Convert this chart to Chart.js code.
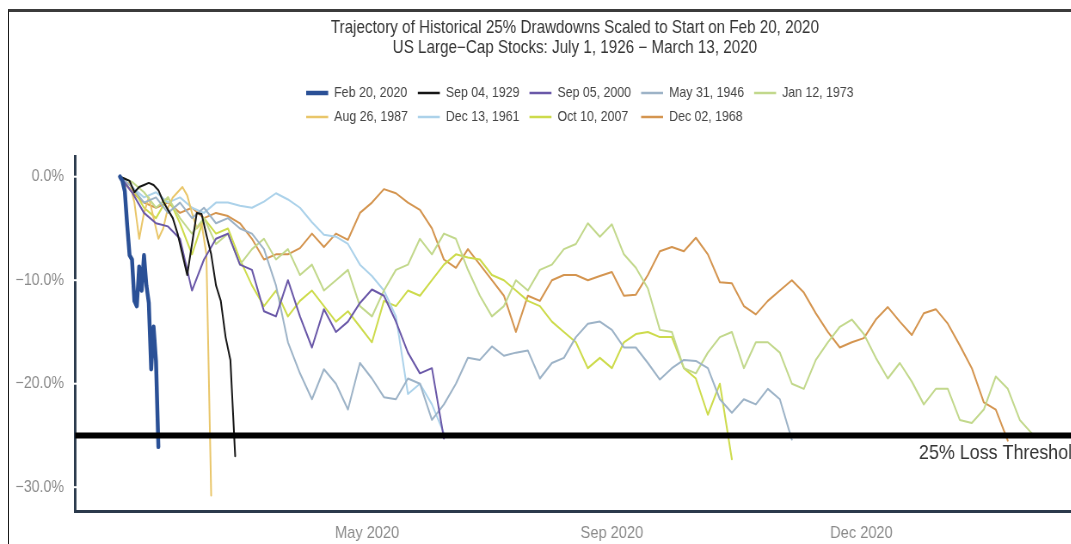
<!DOCTYPE html>
<html><head><meta charset="utf-8">
<script src="https://cdn.jsdelivr.net/npm/chart.js@4.4.1/dist/chart.umd.min.js"></script>
<style>
html,body{margin:0;padding:0;background:#fff;overflow:hidden;width:1071px;height:544px;}
#wrap{position:absolute;left:0;top:0;width:1337px;height:544px;transform:scaleX(0.86);transform-origin:0 0;}
#frame{position:absolute;left:8px;top:9px;width:1100px;height:560px;border-top:3px solid #3b3b3b;border-left:1.5px solid #1a1a1a;pointer-events:none;}
</style></head><body>
<div id="wrap"><canvas id="c" width="1337" height="544"></canvas></div>
<div id="frame"></div>
<script>
// ---------------- data ----------------
const titleLines = ['Trajectory of Historical 25% Drawdowns Scaled to Start on Feb 20, 2020',
                    'US Large\u2212Cap Stocks: July 1, 1926 \u2212 March 13, 2020'];
const seriesNames = ['Feb 20, 2020','Sep 04, 1929','Sep 05, 2000','May 31, 1946','Jan 12, 1973',
                     'Aug 26, 1987','Dec 13, 1961','Oct 10, 2007','Dec 02, 1968'];
// sampling interval (trading days) of each value array
const seriesStepDays = [1, 2, 5, 5, 5, 2, 5, 5, 5];

const feb2020 = [0,-0.4,-1.4,-4.7,-7.6,-8.0,-12.0,-12.5,-8.7,-11.0,-7.6,-10.5,-12.2,-18.6,-14.5,-17.8,-26.1];
const sep1929 = [0,-0.2,-0.4,-1.5,-1.0,-0.8,-0.6,-0.8,-1.3,-2.4,-3.2,-4.0,-5.5,-7.5,-9.5,-6.5,-3.5,-3.6,-5.6,-7.5,-10.5,-12.0,-15.5,-17.7,-27.0];
const sep2000 = [0,-1.5,-3.5,-4.5,-4.8,-6.0,-11.0,-8.0,-6.0,-5.5,-8.5,-9.0,-13.0,-13.5,-10.0,-13.5,-16.5,-12.8,-15.0,-14.0,-12.2,-10.9,-11.5,-14.0,-17.0,-19.0,-18.5,-25.3];
const may1946 = [0,-1.0,-2.5,-2.0,-3.5,-2.5,-4.0,-3.0,-4.5,-4.0,-5.0,-5.5,-7.0,-10.5,-16.0,-19.0,-21.5,-18.6,-20.0,-22.5,-18.0,-19.5,-21.3,-21.5,-19.5,-20.0,-23.5,-22.0,-20.0,-17.5,-17.7,-16.4,-17.3,-17.0,-16.8,-19.5,-18.0,-17.5,-15.5,-14.2,-14.0,-14.8,-16.5,-16.5,-18.0,-19.6,-18.5,-17.7,-17.8,-18.5,-21.5,-22.8,-21.5,-22.0,-20.5,-21.5,-25.4];
const jan1973 = [0,-0.5,-1.5,-3.0,-2.0,-4.0,-5.5,-4.0,-6.5,-5.5,-8.5,-7.0,-6.0,-8.0,-7.0,-9.5,-8.5,-11.0,-10.0,-9.0,-12.5,-13.5,-11.0,-9.0,-8.5,-6.0,-7.5,-5.5,-6.0,-9.0,-11.5,-13.5,-12.5,-10.0,-11.0,-9.0,-8.5,-7.0,-6.5,-4.5,-5.8,-4.6,-7.5,-8.8,-10.8,-14.8,-15.0,-18.5,-19.0,-17.0,-15.5,-15.0,-18.5,-16.0,-16.0,-17.0,-20.0,-20.5,-17.7,-16.0,-14.5,-13.8,-15.2,-17.5,-19.5,-18.0,-19.8,-22.0,-20.5,-20.5,-23.5,-23.8,-22.5,-19.3,-20.5,-23.5,-24.8];
const aug1987 = [0,-1.0,-0.5,-2.5,-6.0,-3.5,-2.0,-4.0,-6.0,-5.0,-3.0,-2.0,-1.5,-1.0,-1.8,-3.5,-5.0,-4.5,-7.5,-30.8];
const dec1961 = [0,-1.0,-2.0,-1.5,-2.5,-2.0,-3.0,-3.5,-2.5,-2.5,-2.8,-3.0,-2.4,-1.6,-2.2,-3.0,-4.4,-5.6,-5.8,-6.5,-8.5,-9.6,-11.0,-13.5,-21.0,-20.0,-22.0,-24.8];
const oct2007 = [0,-1.0,-3.0,-4.0,-2.0,-4.5,-7.5,-4.0,-5.5,-5.0,-8.0,-10.5,-12.5,-11.0,-13.5,-12.0,-11.0,-12.5,-14.0,-13.0,-14.5,-16.0,-12.0,-12.5,-11.0,-11.5,-10.0,-8.5,-7.5,-7.8,-8.0,-9.5,-10.0,-11.0,-12.0,-12.5,-14.0,-15.0,-16.0,-18.5,-17.5,-18.5,-16.0,-15.2,-15.0,-15.5,-15.5,-18.5,-19.5,-23.0,-20.0,-27.3];
const dec1968 = [0,-1.5,-2.5,-3.0,-2.5,-3.5,-3.0,-4.0,-3.5,-3.8,-4.5,-6.0,-8.0,-7.5,-7.5,-6.9,-5.5,-6.8,-5.5,-6.1,-3.5,-2.5,-1.2,-1.6,-2.5,-3.2,-5.0,-8.0,-8.8,-7.0,-8.5,-10.0,-11.5,-15.0,-11.5,-12.0,-10.0,-9.5,-9.5,-10.0,-9.6,-9.2,-11.5,-11.4,-9.5,-7.2,-6.8,-7.2,-5.9,-7.5,-10.2,-10.3,-12.5,-13.3,-12.0,-11.0,-10.0,-11.2,-13.2,-15.0,-16.5,-16.0,-15.6,-13.8,-12.6,-14.0,-15.3,-13.2,-12.8,-14.2,-16.3,-18.5,-21.8,-22.5,-25.5];
const seriesValues = [feb2020, sep1929, sep2000, may1946, jan1973, aug1987, dec1961, oct2007, dec1968];

const thresholdValue = -25;
const thresholdLabel = '25% Loss Threshold';
const thresholdLabelDay = 333;
const yTickValues = [0, -10, -20, -30];
const xTickDays = [103, 205, 309];
const xTickLabels = ['May 2020', 'Sep 2020', 'Dec 2020'];
const X_MIN = -18.75, X_MAX = 429.2, Y_MIN = -32.3, Y_MAX = 2.0;

// ---------------- styles ----------------
const S = 0.86; // horizontal compression applied to the canvas by CSS
const FONT = '"Liberation Sans", Arial, sans-serif';
const seriesColors = ['#2a5096','#161616','#6a58a8','#9db3c7','#c2d88c','#e9c66a','#acd2ea','#cddb4c','#d49550'];
const seriesWidths = [4.5, 2, 2, 2, 2, 2, 2, 2, 2];

Chart.defaults.font.family = FONT;

const datasets = seriesValues.map((vals, s) => ({
  label: seriesNames[s],
  data: vals.map((v, i) => ({x: i * seriesStepDays[s], y: v})),
  borderColor: seriesColors[s],
  borderWidth: seriesWidths[s],
  pointRadius: 0,
  tension: 0,
  borderJoinStyle: 'round',
  borderCapStyle: 'round',
  fill: false,
  order: s
}));
datasets.push({
  label: 'threshold',
  data: [{x: X_MIN, y: thresholdValue}, {x: X_MAX, y: thresholdValue}],
  borderColor: '#000', borderWidth: 6, pointRadius: 0, fill: false, order: -1
});

const overlay = {
  id: 'overlay',
  afterDraw(chart) {
    const {ctx, scales: {x, y}} = chart;
    ctx.save();
    // small breaks in the y axis line at tick positions
    ctx.fillStyle = '#fff';
    yTickValues.forEach(v => { const py = y.getPixelForValue(v); ctx.fillRect(x.left - 4, py - 1, 8, 2); });
    // threshold label
    ctx.fillStyle = '#333';
    ctx.font = '20.8px ' + FONT;
    ctx.textAlign = 'left'; ctx.textBaseline = 'middle';
    ctx.fillText(thresholdLabel, x.getPixelForValue(thresholdLabelDay), y.getPixelForValue(thresholdValue) + 18);
    // legend (2 rows x 5 columns)
    const cols = 5, keyLen = 22 / S, gap = 6 / S, colGap = 10 / S;
    ctx.font = '14.4px ' + FONT;
    const colW = [];
    for (let c = 0; c < cols; c++) {
      let m = 0;
      for (let i = c; i < seriesNames.length; i += cols) m = Math.max(m, ctx.measureText(seriesNames[i]).width);
      colW.push(keyLen + gap + m + colGap);
    }
    const total = colW.reduce((a, b) => a + b, 0) - colGap;
    const startX = chart.width / 2 + 5 / S - total / 2;
    const rowY = [93, 117];
    seriesNames.forEach((name, i) => {
      const c = i % cols, r = Math.floor(i / cols);
      let lx = startX; for (let k = 0; k < c; k++) lx += colW[k];
      const ly = rowY[r];
      ctx.strokeStyle = seriesColors[i];
      ctx.lineWidth = i === 0 ? 4.5 : 2.5;
      ctx.beginPath(); ctx.moveTo(lx, ly); ctx.lineTo(lx + keyLen, ly); ctx.stroke();
      ctx.fillStyle = '#444';
      ctx.fillText(name, lx + keyLen + gap, ly);
    });
    ctx.restore();
  }
};

new Chart(document.getElementById('c'), {
  type: 'line',
  data: {datasets},
  options: {
    responsive: false,
    animation: false,
    layout: {padding: 0},
    plugins: {
      legend: {display: false},
      tooltip: {enabled: false},
      title: {
        display: true,
        text: titleLines,
        color: '#333',
        font: {family: FONT, size: 17.7, weight: 'normal', lineHeight: 20 / 17.7},
        padding: {top: 18, bottom: 98}
      }
    },
    scales: {
      x: {
        type: 'linear', min: X_MIN, max: X_MAX,
        grid: {display: false, drawTicks: false},
        border: {display: true, color: '#2b3a4c', width: 3},
        afterFit: s => { s.height = 33; },
        afterBuildTicks: s => { s.ticks = xTickDays.map(v => ({value: v})); },
        ticks: {
          color: '#8a8a8a', font: {size: 17}, padding: 12, maxRotation: 0, autoSkip: false,
          callback: v => xTickLabels[xTickDays.indexOf(v)]
        }
      },
      y: {
        type: 'linear', min: Y_MIN, max: Y_MAX,
        grid: {display: false, drawTicks: false},
        border: {display: true, color: '#2b3a4c', width: 2.9},
        afterFit: s => { s.width = 75 / S; },
        afterBuildTicks: s => { s.ticks = yTickValues.map(v => ({value: v})); },
        ticks: {
          color: '#8a8a8a', font: {size: 16.5}, padding: 11 / S,
          callback: v => (v < 0 ? '\u2212' : '') + Math.abs(v).toFixed(1) + '%'
        }
      }
    }
  },
  plugins: [overlay]
});
</script>
</body></html>
